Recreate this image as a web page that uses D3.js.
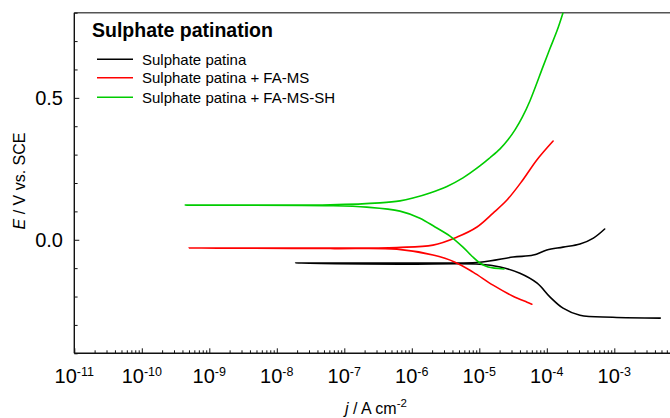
<!DOCTYPE html>
<html>
<head>
<meta charset="utf-8">
<script src="https://cdn.jsdelivr.net/npm/d3@7"></script>
<style>
  html, body { margin: 0; padding: 0; background: #fff; }
  svg { display: block; font-family: "Liberation Sans", Arial, sans-serif; }
</style>
</head>
<body>
<svg id="chart" width="670" height="418"></svg>
<script>
// ---- Data (j in A cm^-2, E in V vs. SCE) ----
const seriesNames = ["Sulphate patina", "Sulphate patina + FA-MS", "Sulphate patina + FA-MS-SH"];

const blackJ = [4.8e-3, 9.5e-4, 3.1e-4, 1.74e-4, 1.12e-4, 7.2e-5, 4.0e-5, 2.04e-5, 1.02e-5, 6.6e-7, 1.9e-8,
                6.6e-7, 1.02e-5, 3.16e-5, 6.3e-5, 1.0e-4, 1.74e-4, 3.1e-4, 4.9e-4, 7.2e-4];
const blackE = [-0.276, -0.273, -0.266, -0.241, -0.202, -0.153, -0.118, -0.096, -0.086, -0.086, -0.082,
                -0.082, -0.079, -0.061, -0.054, -0.036, -0.026, -0.015, 0.006, 0.038];

const redJ = [6.0e-5, 5.1e-5, 3.16e-5, 1.6e-5, 8.07e-6, 4.37e-6, 2.06e-6, 6.0e-7, 6.2e-8, 5.0e-10,
              6.2e-8, 6.0e-7, 2.06e-6, 4.68e-6, 9.25e-6, 1.6e-5, 2.57e-5, 4.3e-5, 7.16e-5, 1.24e-4];
const redE = [-0.227, -0.220, -0.199, -0.160, -0.114, -0.079, -0.054, -0.033, -0.031, -0.029,
              -0.029, -0.027, -0.019, 0.0095, 0.045, 0.094, 0.140, 0.207, 0.282, 0.348];

const greenJ = [2.32e-5, 1.35e-5, 1.02e-5, 7.8e-6, 5.73e-6, 3.68e-6, 2.21e-6, 1.32e-6, 6.68e-7, 2.15e-7, 6.2e-8, 4.4e-10,
                4.0e-9, 6.2e-8, 3.38e-7, 6.68e-7, 1.04e-6, 1.86e-6, 3.32e-6, 5.73e-6, 1.02e-5, 1.44e-5,
                2.03e-5, 2.66e-5, 3.38e-5, 4.3e-5, 5.64e-5, 8.79e-5, 1.11e-4, 1.42e-4, 1.74e-4];
const greenE = [-0.103, -0.096, -0.082, -0.058, -0.026, 0.013, 0.045, 0.076, 0.101, 0.115, 0.120, 0.122,
                0.122, 0.123, 0.130, 0.137, 0.147, 0.165, 0.188, 0.218, 0.260, 0.289,
                0.320, 0.352, 0.387, 0.430, 0.490, 0.610, 0.673, 0.737, 0.800];

const seriesColors = ["#000000", "#ff0000", "#00cc00"];
const xTickExponents = [-11, -10, -9, -8, -7, -6, -5, -4, -3];
const yTickLabels = [0.0, 0.5];
const xDomain = [1e-11, 1e-2];
const yDomain = [-0.4, 0.8];

(function draw() {
  const svg = d3.select("#chart");
  const pL = 74.3, pT = 12.7, pB = 353.3, pR = 681.8;

  const x = d3.scaleLog().domain(xDomain).range([pL, pR]);
  const y = d3.scaleLinear().domain(yDomain).range([pB, pT]);

  svg.append("defs").append("clipPath").attr("id", "plotclip")
    .append("rect").attr("x", pL).attr("y", pT).attr("width", pR - pL).attr("height", pB - pT);

  // top frame line
  svg.append("line").attr("x1", pL).attr("x2", 670).attr("y1", pT).attr("y2", pT)
    .attr("stroke", "#555").attr("stroke-width", 1.4);

  // ---- X axis (ticks inside) ----
  const minorX = [];
  for (let e = -11; e < -2; e++) for (let m = 2; m <= 9; m++) minorX.push(m * Math.pow(10, e));
  const xAxisG = svg.append("g").attr("transform", `translate(0,${pB})`);
  xAxisG.append("g").call(d3.axisTop(x).tickValues(minorX).tickSize(3).tickFormat(""))
    .call(g => g.select(".domain").remove());
  xAxisG.append("g").call(d3.axisTop(x).tickValues(xTickExponents.map(e => Math.pow(10, e))).tickSize(5).tickFormat(""))
    .call(g => g.select(".domain").remove());
  xAxisG.selectAll("line").attr("stroke", "#111").attr("stroke-width", 1);
  xAxisG.append("line").attr("x1", pL).attr("x2", 670).attr("y1", 0).attr("y2", 0)
    .attr("stroke", "#111").attr("stroke-width", 1.4);

  // x tick labels 10^n
  xTickExponents.forEach(e => {
    const t = svg.append("text").attr("x", x(Math.pow(10, e))).attr("y", 383.3)
      .attr("text-anchor", "middle").attr("font-size", 20).attr("fill", "#000");
    t.append("tspan").text("10");
    t.append("tspan").attr("font-size", 12.5).attr("dy", -7).text(String(e));
  });

  // ---- Y axis (ticks inside) ----
  const yMinor = d3.range(-0.4, 0.81, 0.1).map(v => +v.toFixed(1));
  const yAxisG = svg.append("g").attr("transform", `translate(${pL},0)`);
  yAxisG.append("g").call(d3.axisRight(y).tickValues(yMinor.filter(v => !yTickLabels.includes(v))).tickSize(3.3).tickFormat(""))
    .call(g => g.select(".domain").remove());
  yAxisG.append("g").call(d3.axisRight(y).tickValues(yTickLabels).tickSize(5).tickFormat(""))
    .call(g => g.select(".domain").remove());
  yAxisG.selectAll("line").attr("stroke", "#111").attr("stroke-width", 1);
  yAxisG.append("line").attr("x1", 0).attr("x2", 0).attr("y1", pT).attr("y2", pB)
    .attr("stroke", "#111").attr("stroke-width", 1.4);

  yTickLabels.forEach(v => {
    svg.append("text").attr("x", 63).attr("y", y(v) + 7.3)
      .attr("text-anchor", "end").attr("font-size", 20).attr("fill", "#000")
      .text(d3.format(".1f")(v));
  });

  // axis titles
  const yt = svg.append("text").attr("transform", "translate(24.5,181) rotate(-90)")
    .attr("text-anchor", "middle").attr("font-size", 16).attr("fill", "#000");
  yt.append("tspan").attr("font-style", "italic").text("E");
  yt.append("tspan").text(" / V vs. SCE");

  const xt = svg.append("text").attr("x", 376).attr("y", 413.5)
    .attr("text-anchor", "middle").attr("font-size", 16).attr("fill", "#000");
  xt.append("tspan").attr("font-style", "italic").text("j");
  xt.append("tspan").text(" / A cm");
  xt.append("tspan").attr("font-size", 11.5).attr("dy", -7).text("-2");

  // ---- Curves ----
  const line = d3.line().x(d => x(d[0])).y(d => y(d[1])).curve(d3.curveCatmullRom.alpha(0.5));
  const seriesData = [
    d3.zip(blackJ, blackE),
    d3.zip(redJ, redE),
    d3.zip(greenJ, greenE)
  ];
  const plot = svg.append("g").attr("clip-path", "url(#plotclip)");
  seriesData.forEach((pts, i) => {
    plot.append("path").attr("d", line(pts)).attr("fill", "none")
      .attr("stroke", seriesColors[i]).attr("stroke-width", 1.6)
      .attr("stroke-linejoin", "round").attr("stroke-linecap", "round");
  });

  // ---- Title & legend ----
  svg.append("text").attr("x", 92).attr("y", 37).attr("font-size", 19.5)
    .attr("font-weight", "bold").attr("fill", "#000").text("Sulphate patination");

  const legY = [59.3, 77.7, 97.3];
  seriesNames.forEach((name, i) => {
    svg.append("line").attr("x1", 97).attr("x2", 133).attr("y1", legY[i]).attr("y2", legY[i])
      .attr("stroke", seriesColors[i]).attr("stroke-width", 1.6);
    svg.append("text").attr("x", 142).attr("y", legY[i] + 5.3).attr("font-size", 15)
      .attr("fill", "#000").text(name);
  });
})();
</script>
</body>
</html>
